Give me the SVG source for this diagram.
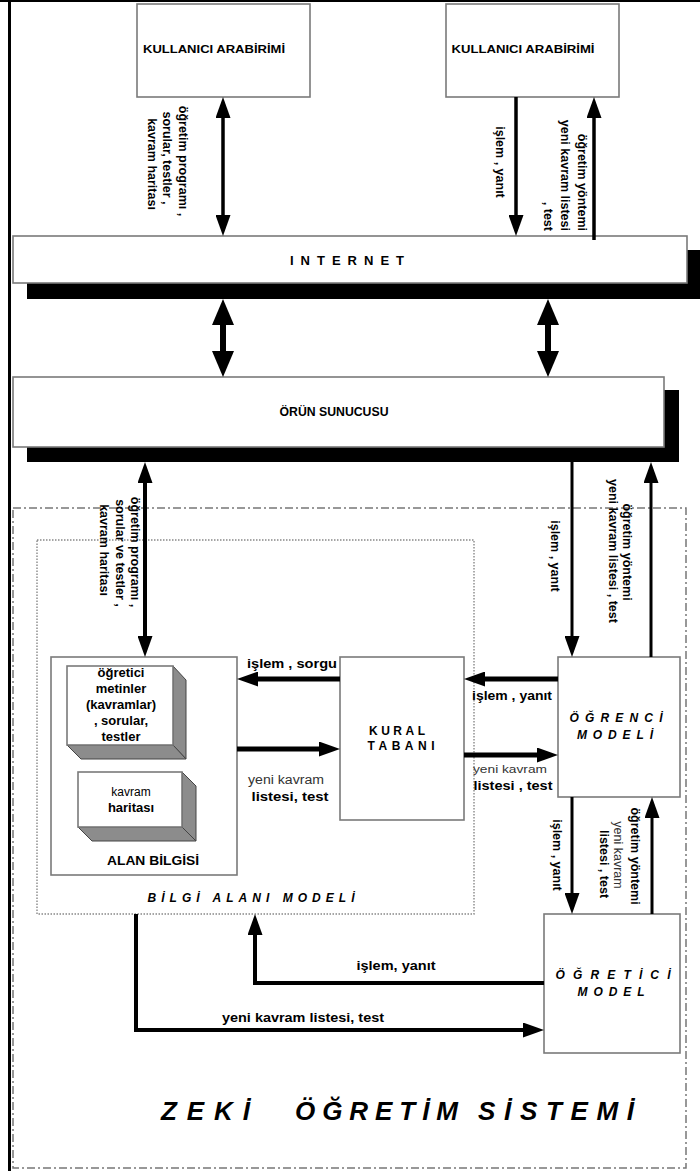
<svg xmlns="http://www.w3.org/2000/svg" width="700" height="1171" viewBox="0 0 700 1171">
<style>
text{font-family:"Liberation Sans","DejaVu Sans",Arial,sans-serif;fill:#000}
.b{font-weight:bold}
.lbl{font-size:12px;font-weight:bold}
.v{font-size:12.5px}
.n{font-weight:normal;fill:#333}
.box{fill:#fff;stroke:#7a7a7a;stroke-width:1.6}
.sh{fill:#000}
.side{fill:#8c8c8c;stroke:#444;stroke-width:1}
.ttl{font-size:12px;font-weight:bold;font-style:italic}
.big{font-size:26px;font-weight:bold;font-style:italic}
.ln{fill:none;stroke:#000}
</style>
<defs>
<marker id="arrM" markerUnits="userSpaceOnUse" markerWidth="21" markerHeight="15" refX="2" refY="7.5" orient="auto-start-reverse"><path d="M0,0 L21,7.5 L0,15 z" fill="#000"/></marker>
<marker id="arrL" markerUnits="userSpaceOnUse" markerWidth="26" markerHeight="22" refX="2" refY="11" orient="auto-start-reverse"><path d="M0,0 L26,11 L0,22 z" fill="#000"/></marker>
</defs>

<!-- frame -->
<rect x="8" y="0" width="3" height="1171" fill="#000"/>
<rect x="0" y="0" width="700" height="2" fill="#000"/>

<!-- system boundary -->
<g id="zeki-ogretim-sistemi">
<rect x="13" y="508" width="673" height="660" fill="none" stroke="#777" stroke-width="1.5" stroke-dasharray="8,3,2,3"/>
<text x="161" y="1120" class="big" textLength="89" lengthAdjust="spacing">ZEKİ</text>
<text x="295" y="1120" class="big" textLength="163" lengthAdjust="spacing">ÖĞRETİM</text>
<text x="478" y="1120" class="big" textLength="156" lengthAdjust="spacing">SİSTEMİ</text>
</g>

<g id="bilgi-alani-modeli">
<rect x="37" y="540" width="437" height="374" fill="none" stroke="#888" stroke-width="1.4" stroke-dasharray="1.5,1.5"/>
<text x="251" y="902" text-anchor="middle" class="ttl" textLength="207" lengthAdjust="spacing">BİLGİ ALANI MODELİ</text>
</g>

<g id="kullanici-arabirimi-1">
<rect class="box" x="137" y="4" width="173" height="93"/>
<text x="214" y="53" text-anchor="middle" class="b" font-size="11" textLength="142" lengthAdjust="spacingAndGlyphs">KULLANICI ARABİRİMİ</text>
</g>
<g id="kullanici-arabirimi-2">
<rect class="box" x="446" y="4" width="173" height="93"/>
<text x="523" y="53" text-anchor="middle" class="b" font-size="11" textLength="143" lengthAdjust="spacingAndGlyphs">KULLANICI ARABİRİMİ</text>
</g>

<g id="internet">
<rect class="sh" x="27" y="250" width="673" height="49"/>
<rect class="box" x="13" y="236" width="674" height="47"/>
<text x="347" y="265" text-anchor="middle" class="b" font-size="13" textLength="114" lengthAdjust="spacing">INTERNET</text>
</g>

<g id="orun-sunucusu">
<rect class="sh" x="27" y="390" width="652" height="72"/>
<rect class="box" x="13" y="377" width="651" height="70"/>
<text x="334" y="416" text-anchor="middle" class="b" font-size="12" textLength="109" lengthAdjust="spacingAndGlyphs">ÖRÜN SUNUCUSU</text>
</g>

<g id="alan-bilgisi">
<rect class="box" x="51" y="657" width="186" height="218"/>
<g id="ogretici-metinler">
<polygon class="side" points="173,666 186,680 186,759 173,745"/>
<polygon class="side" points="67,745 173,745 186,759 81,759"/>
<rect class="box" x="67" y="666" width="106" height="79"/>
<text x="121" y="677" text-anchor="middle" class="b" font-size="13" fill="#444">öğretici</text>
<text x="121" y="693" text-anchor="middle" class="b" font-size="13">metinler</text>
<text x="121" y="709" text-anchor="middle" class="b" font-size="13">(kavramlar)</text>
<text x="121" y="725" text-anchor="middle" class="b" font-size="13">, sorular,</text>
<text x="121" y="741" text-anchor="middle" class="b" font-size="13">testler</text>
</g>
<g id="kavram-haritasi">
<polygon class="side" points="182,772 196,786 196,841 182,827"/>
<polygon class="side" points="78,827 182,827 196,841 92,841"/>
<rect class="box" x="78" y="772" width="104" height="55"/>
<text x="131" y="796" text-anchor="middle" font-size="12" fill="#333">kavram</text>
<text x="131" y="812" text-anchor="middle" class="b" font-size="13">haritası</text>
</g>
<text x="153" y="865" text-anchor="middle" class="b" font-size="12" textLength="92" lengthAdjust="spacingAndGlyphs">ALAN BİLGİSİ</text>
</g>

<g id="kural-tabani">
<rect class="box" x="340" y="657" width="124" height="163"/>
<text x="397" y="735" text-anchor="middle" class="b" font-size="12" textLength="56" lengthAdjust="spacing">KURAL</text>
<text x="401" y="750" text-anchor="middle" class="b" font-size="12" textLength="67" lengthAdjust="spacing">TABANI</text>
</g>

<g id="ogrenci-modeli">
<rect class="box" x="558" y="657" width="122" height="140"/>
<text x="616" y="722" text-anchor="middle" class="ttl" font-size="13" textLength="93" lengthAdjust="spacing">ÖĞRENCİ</text>
<text x="615" y="739" text-anchor="middle" class="ttl" font-size="13" textLength="76" lengthAdjust="spacing">MODELİ</text>
</g>

<g id="ogretici-model">
<rect class="box" x="544" y="914" width="136" height="139"/>
<text x="613" y="979" text-anchor="middle" class="ttl" font-size="13" textLength="115" lengthAdjust="spacing">ÖĞRETİCİ</text>
<text x="611" y="996" text-anchor="middle" class="ttl" font-size="13" textLength="67" lengthAdjust="spacing">MODEL</text>
</g>

<g id="connectors">
<!-- top -->
<line class="ln" x1="223" y1="116" x2="223" y2="217" stroke-width="3.5" marker-start="url(#arrM)" marker-end="url(#arrM)"/>
<line class="ln" x1="516" y1="97" x2="516" y2="217" stroke-width="3.5" marker-end="url(#arrM)"/>
<line class="ln" x1="594" y1="240" x2="594" y2="116" stroke-width="3.5" marker-end="url(#arrM)"/>
<!-- internet - server -->
<line class="ln" x1="223" y1="323" x2="223" y2="353" stroke-width="6" marker-start="url(#arrL)" marker-end="url(#arrL)"/>
<line class="ln" x1="548" y1="323" x2="548" y2="353" stroke-width="6" marker-start="url(#arrL)" marker-end="url(#arrL)"/>
<!-- server - system -->
<line class="ln" x1="145" y1="481" x2="145" y2="638" stroke-width="4" marker-start="url(#arrM)" marker-end="url(#arrM)"/>
<line class="ln" x1="572" y1="462" x2="572" y2="638" stroke-width="3" marker-end="url(#arrM)"/>
<line class="ln" x1="651" y1="657" x2="651" y2="481" stroke-width="3" marker-end="url(#arrM)"/>
<!-- horizontal -->
<line class="ln" x1="340" y1="679" x2="256" y2="679" stroke-width="5" marker-end="url(#arrM)"/>
<line class="ln" x1="237" y1="749" x2="321" y2="749" stroke-width="5" marker-end="url(#arrM)"/>
<line class="ln" x1="558" y1="679" x2="483" y2="679" stroke-width="5" marker-end="url(#arrM)"/>
<line class="ln" x1="464" y1="755" x2="539" y2="755" stroke-width="5" marker-end="url(#arrM)"/>
<!-- ogrenci - ogretici -->
<line class="ln" x1="572" y1="797" x2="572" y2="895" stroke-width="3" marker-end="url(#arrM)"/>
<line class="ln" x1="652" y1="914" x2="652" y2="816" stroke-width="3" marker-end="url(#arrM)"/>
<!-- bottom -->
<path class="ln" d="M544,983 H255 V933" stroke-width="4" marker-end="url(#arrM)"/>
<path class="ln" d="M136,914 V1030 H525" stroke-width="4" marker-end="url(#arrM)"/>

<!-- labels -->
<g class="lbl">
<text class="v" transform="translate(179,161) rotate(90)" text-anchor="middle">öğretim programı ,</text>
<text class="v" transform="translate(163,158) rotate(90)" text-anchor="middle">sorular, testler ,</text>
<text class="v" transform="translate(148,164) rotate(90)" text-anchor="middle">kavram haritası</text>

<text class="v" transform="translate(496,162) rotate(90)" text-anchor="middle">işlem , yanıt</text>
<text class="v" transform="translate(578,231) rotate(90)" text-anchor="end">öğretim yöntemi</text>
<text class="v" transform="translate(561,231) rotate(90)" text-anchor="end">yeni kavram listesi</text>
<text class="v" transform="translate(544,231) rotate(90)" text-anchor="end">, test</text>

<text class="v" transform="translate(131,552) rotate(90)" text-anchor="middle">öğretim programı ,</text>
<text class="v" transform="translate(116,553) rotate(90)" text-anchor="middle">sorular ve testler ,</text>
<text class="v" transform="translate(100,550) rotate(90)" text-anchor="middle">kavram haritası</text>

<text class="v" transform="translate(551,556) rotate(90)" text-anchor="middle">işlem , yanıt</text>
<text class="v" transform="translate(623,552) rotate(90)" text-anchor="middle">öğretim yöntemi</text>
<text class="v" transform="translate(609,551) rotate(90)" text-anchor="middle">yeni kavram listesi , test</text>

<text class="v" transform="translate(553,855) rotate(90)" text-anchor="middle">işlem , yanıt</text>
<text class="v" transform="translate(631,856) rotate(90)" text-anchor="middle">öğretim yöntemi</text>
<text class="v n" transform="translate(614,855) rotate(90)" text-anchor="middle">yeni kavram</text>
<text class="v" transform="translate(600,864) rotate(90)" text-anchor="middle">listesi , test</text>

<text x="292" y="668" text-anchor="middle" font-size="12.5" textLength="90" lengthAdjust="spacingAndGlyphs">işlem , sorgu</text>
<text x="286" y="784" text-anchor="middle" class="n" font-size="12" textLength="76" lengthAdjust="spacingAndGlyphs">yeni kavram</text>
<text x="290" y="801" text-anchor="middle" font-size="12.5" textLength="77" lengthAdjust="spacingAndGlyphs">listesi, test</text>

<text x="512" y="700" text-anchor="middle" font-size="12" textLength="80" lengthAdjust="spacingAndGlyphs">işlem , yanıt</text>
<text x="510" y="773" text-anchor="middle" class="n" font-size="11.5" textLength="74" lengthAdjust="spacingAndGlyphs">yeni kavram</text>
<text x="513" y="790" text-anchor="middle" font-size="12" textLength="79" lengthAdjust="spacingAndGlyphs">listesi , test</text>

<text x="396" y="970" text-anchor="middle" textLength="79" lengthAdjust="spacingAndGlyphs">işlem, yanıt</text>
<text x="303" y="1022" text-anchor="middle" textLength="162" lengthAdjust="spacingAndGlyphs">yeni kavram listesi, test</text>
</g>
</g>
</svg>
